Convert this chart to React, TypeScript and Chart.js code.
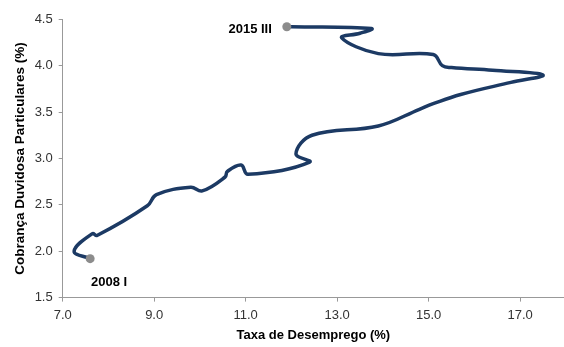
import React, { useEffect, useRef } from "react";
import { Chart, registerables } from "chart.js";

Chart.register(...registerables);

const quarters = [
  "2008 I", "2008 II", "2008 III", "2008 IV",
  "2009 I", "2009 II", "2009 III", "2009 IV",
  "2010 I", "2010 II", "2010 III", "2010 IV",
  "2011 I", "2011 II", "2011 III", "2011 IV",
  "2012 I", "2012 II", "2012 III", "2012 IV",
  "2013 I", "2013 II", "2013 III", "2013 IV",
  "2014 I", "2014 II", "2014 III", "2014 IV",
  "2015 I", "2015 II", "2015 III",
];

const unemployment = [
  7.6, 7.25, 7.65, 7.75,
  8.85, 9.05, 9.8, 10.05,
  10.55, 10.6, 10.9, 11.05,
  12.4, 12.1, 12.45, 13.9,
  14.8, 15.1, 15.7, 16.8,
  17.5, 16.4, 15.5, 15.3,
  15.1, 13.9, 13.1, 13.5,
  13.75, 12.0, 11.9,
];

const badDebt = [
  1.92, 2.0, 2.19, 2.17,
  2.49, 2.61, 2.69, 2.65,
  2.8, 2.86, 2.93, 2.83,
  2.96, 3.05, 3.25, 3.35,
  3.53, 3.59, 3.69, 3.82,
  3.9, 3.95, 3.98, 4.0,
  4.12, 4.13, 4.3, 4.35,
  4.4, 4.42, 4.42,
];

const xTicks = [7, 9, 11, 13, 15, 17];
const yTicks = [1.5, 2.0, 2.5, 3.0, 3.5, 4.0, 4.5];

const xTitle = "Taxa de Desemprego (%)";
const yTitle = "Cobrança Duvidosa Particulares (%)";

const FONT = "'Liberation Sans', Arial, sans-serif";

const endLabels = {
  id: "endLabels",
  afterDatasetsDraw(chart: any) {
    const meta = chart.getDatasetMeta(0);
    const n = meta.data.length;
    const first = meta.data[0];
    const last = meta.data[n - 1];
    const ctx = chart.ctx;
    ctx.save();
    ctx.font = `bold 13px ${FONT}`;
    ctx.fillStyle = "#000";
    ctx.textBaseline = "middle";
    ctx.textAlign = "center";
    ctx.fillText(quarters[0], first.x + 19, first.y + 24);
    ctx.textAlign = "right";
    ctx.fillText(quarters[n - 1], last.x - 15, last.y + 3);
    ctx.restore();
  },
};

export default function App() {
  const ref = useRef<HTMLCanvasElement>(null);

  useEffect(() => {
    document.body.style.margin = "0";
    const points = unemployment.map((x, i) => ({ x, y: badDebt[i] }));
    const last = points.length - 1;
    const chart = new Chart(ref.current as HTMLCanvasElement, {
      type: "scatter",
      data: {
        datasets: [
          {
            data: points,
            showLine: true,
            tension: 0.4,
            borderColor: "#1c3a64",
            borderWidth: 3.5,
            pointRadius: (c: any) => (c.dataIndex === 0 || c.dataIndex === last ? 4.5 : 0),
            pointBackgroundColor: "#8c8c8c",
            pointBorderWidth: 0,
            pointHoverRadius: 0,
          },
        ],
      },
      options: {
        animation: false,
        responsive: false,
        layout: { autoPadding: false, padding: { top: 19.3, right: 0, left: 0, bottom: 0 } },
        plugins: { legend: { display: false }, tooltip: { enabled: false } },
        scales: {
          x: {
            type: "linear",
            min: 7,
            max: 17.96,
            afterBuildTicks: (s: any) => {
              s.ticks = xTicks.map((value) => ({ value }));
            },
            afterFit: (s: any) => {
              s.height = 49.4;
            },
            ticks: {
              padding: 6,
              color: "#333",
              font: { family: FONT, size: 13 },
              callback: (v: any) => Number(v).toFixed(1),
            },
            grid: { drawOnChartArea: false, tickLength: 4, color: "#999" },
            border: { color: "#999", width: 1 },
            title: {
              display: true,
              text: xTitle,
              color: "#000",
              font: { family: FONT, size: 13, weight: "bold" },
              padding: { top: 0, bottom: 4 },
            },
          },
          y: {
            type: "linear",
            min: 1.5,
            max: 4.5,
            afterBuildTicks: (s: any) => {
              s.ticks = yTicks.map((value) => ({ value }));
            },
            afterFit: (s: any) => {
              s.width = 62.7;
            },
            ticks: {
              padding: 6,
              color: "#333",
              font: { family: FONT, size: 13 },
              callback: (v: any) => Number(v).toFixed(1),
            },
            grid: { drawOnChartArea: false, tickLength: 4, color: "#999" },
            border: { color: "#999", width: 1 },
            title: {
              display: true,
              text: yTitle,
              color: "#000",
              font: { family: FONT, size: 13.5, weight: "bold" },
              padding: { top: 11.9, bottom: 0 },
            },
          },
        },
      },
      plugins: [endLabels],
    } as any);
    return () => chart.destroy();
  }, []);

  return (
    <div style={{ width: 564, height: 347, position: "relative" }}>
      <canvas ref={ref} width={564} height={347} style={{ display: "block" }} />
    </div>
  );
}
